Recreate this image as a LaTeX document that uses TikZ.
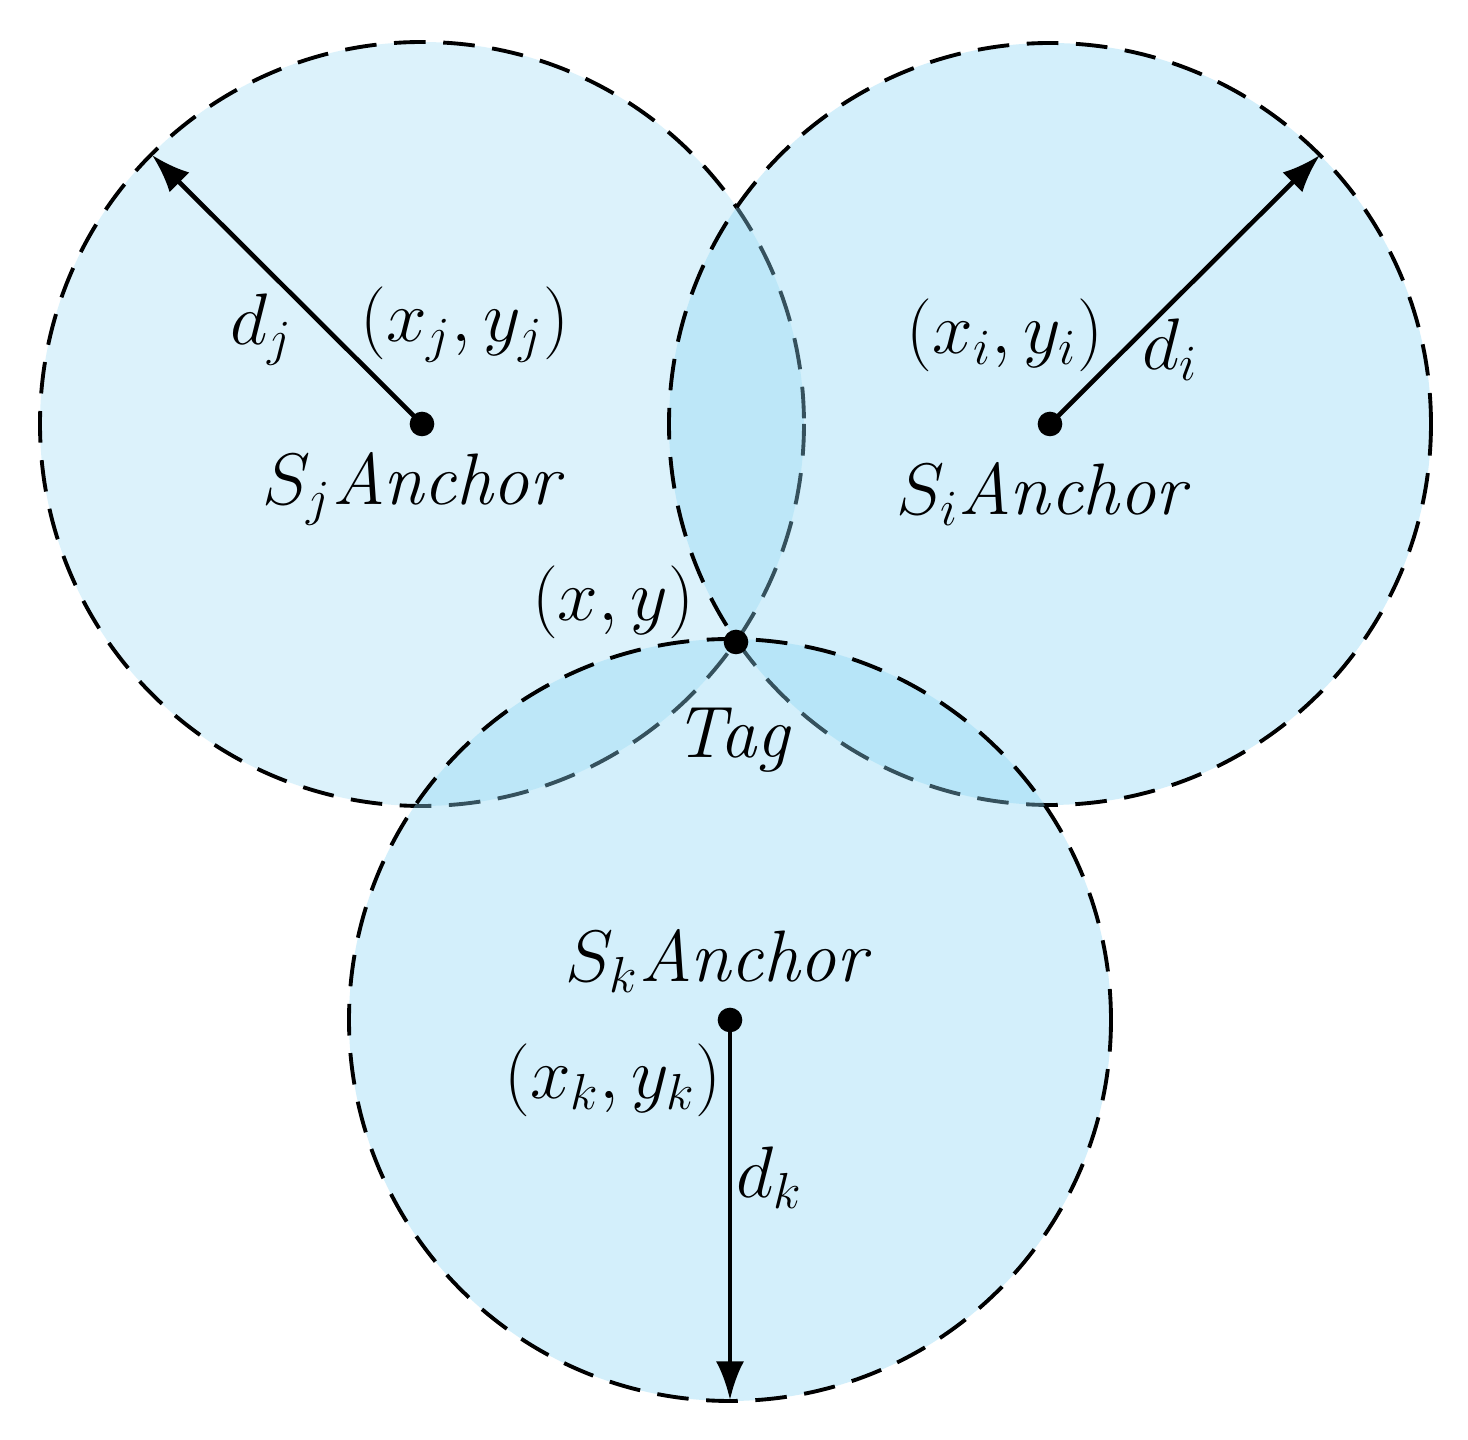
\documentclass[tikz,border=0pt]{standalone}
\usetikzlibrary{arrows.meta}
\begin{document}
\begin{tikzpicture}[x=0.01cm,y=-0.01cm,
  circ/.style={draw=black,dashed,dash pattern=on 9pt off 5pt,line width=1.1pt,fill={rgb,255:red,140;green,215;blue,245}},
  dot/.style={circle,fill=black,inner sep=0pt,minimum size=7pt},
  arr/.style={-{Latex[length=11pt,width=8pt]},line width=1.3pt},
  lab/.style={font=\fontsize{21}{24}\selectfont,inner sep=0pt}]
\useasboundingbox (0,0) rectangle (1468,1440);
\fill[white] (0,0) rectangle (1468,1440);
\draw[circ,fill opacity=0.3] (422,424) circle[radius=382];
\draw[circ,fill opacity=0.38] (1050,424) circle[radius=381];
\draw[circ,fill opacity=0.38] (730,1020) circle[radius=381];
\node[dot] (cj) at (422,424) {};
\node[dot] (ci) at (1050,424) {};
\node[dot] (ck) at (730,1020) {};
\node[dot] (tag) at (736,642) {};
\coordinate (ej) at (152,155);
\coordinate (ei) at (1320,155);
\coordinate (ek) at (730,1400);
\draw[arr] (cj.center) -- (ej);
\draw[arr] (ci.center) -- (ei);
\draw[arr] (ck.center) -- (ek);
\node[lab] (dj) at (262,330) {$d_j$};
\node[lab] (pj) at (465,325) {$\Bigl(x_j,y_j\Bigr)$};
\node[lab] (aj) at (415,490) {$S_j\mathit{Anchor}$};
\node[lab] (pi) at (1005,335) {$\Bigl(x_i,y_i\Bigr)$};
\node[lab] (di) at (1170,350) {$d_i$};
\node[lab] (ai) at (1045,495) {$S_i\mathit{Anchor}$};
\node[lab] (pt) at (613,602) {$\Bigl(x,y\Bigr)$};
\node[lab] (tg) at (735,740) {$\mathit{Tag}$};
\node[lab] (ak) at (720,962) {$S_k\mathit{Anchor}$};
\node[lab] (pk) at (613,1080) {$\Bigl(x_k,y_k\Bigr)$};
\node[lab] (dk) at (770,1178) {$d_k$};
\end{tikzpicture}
\end{document}
